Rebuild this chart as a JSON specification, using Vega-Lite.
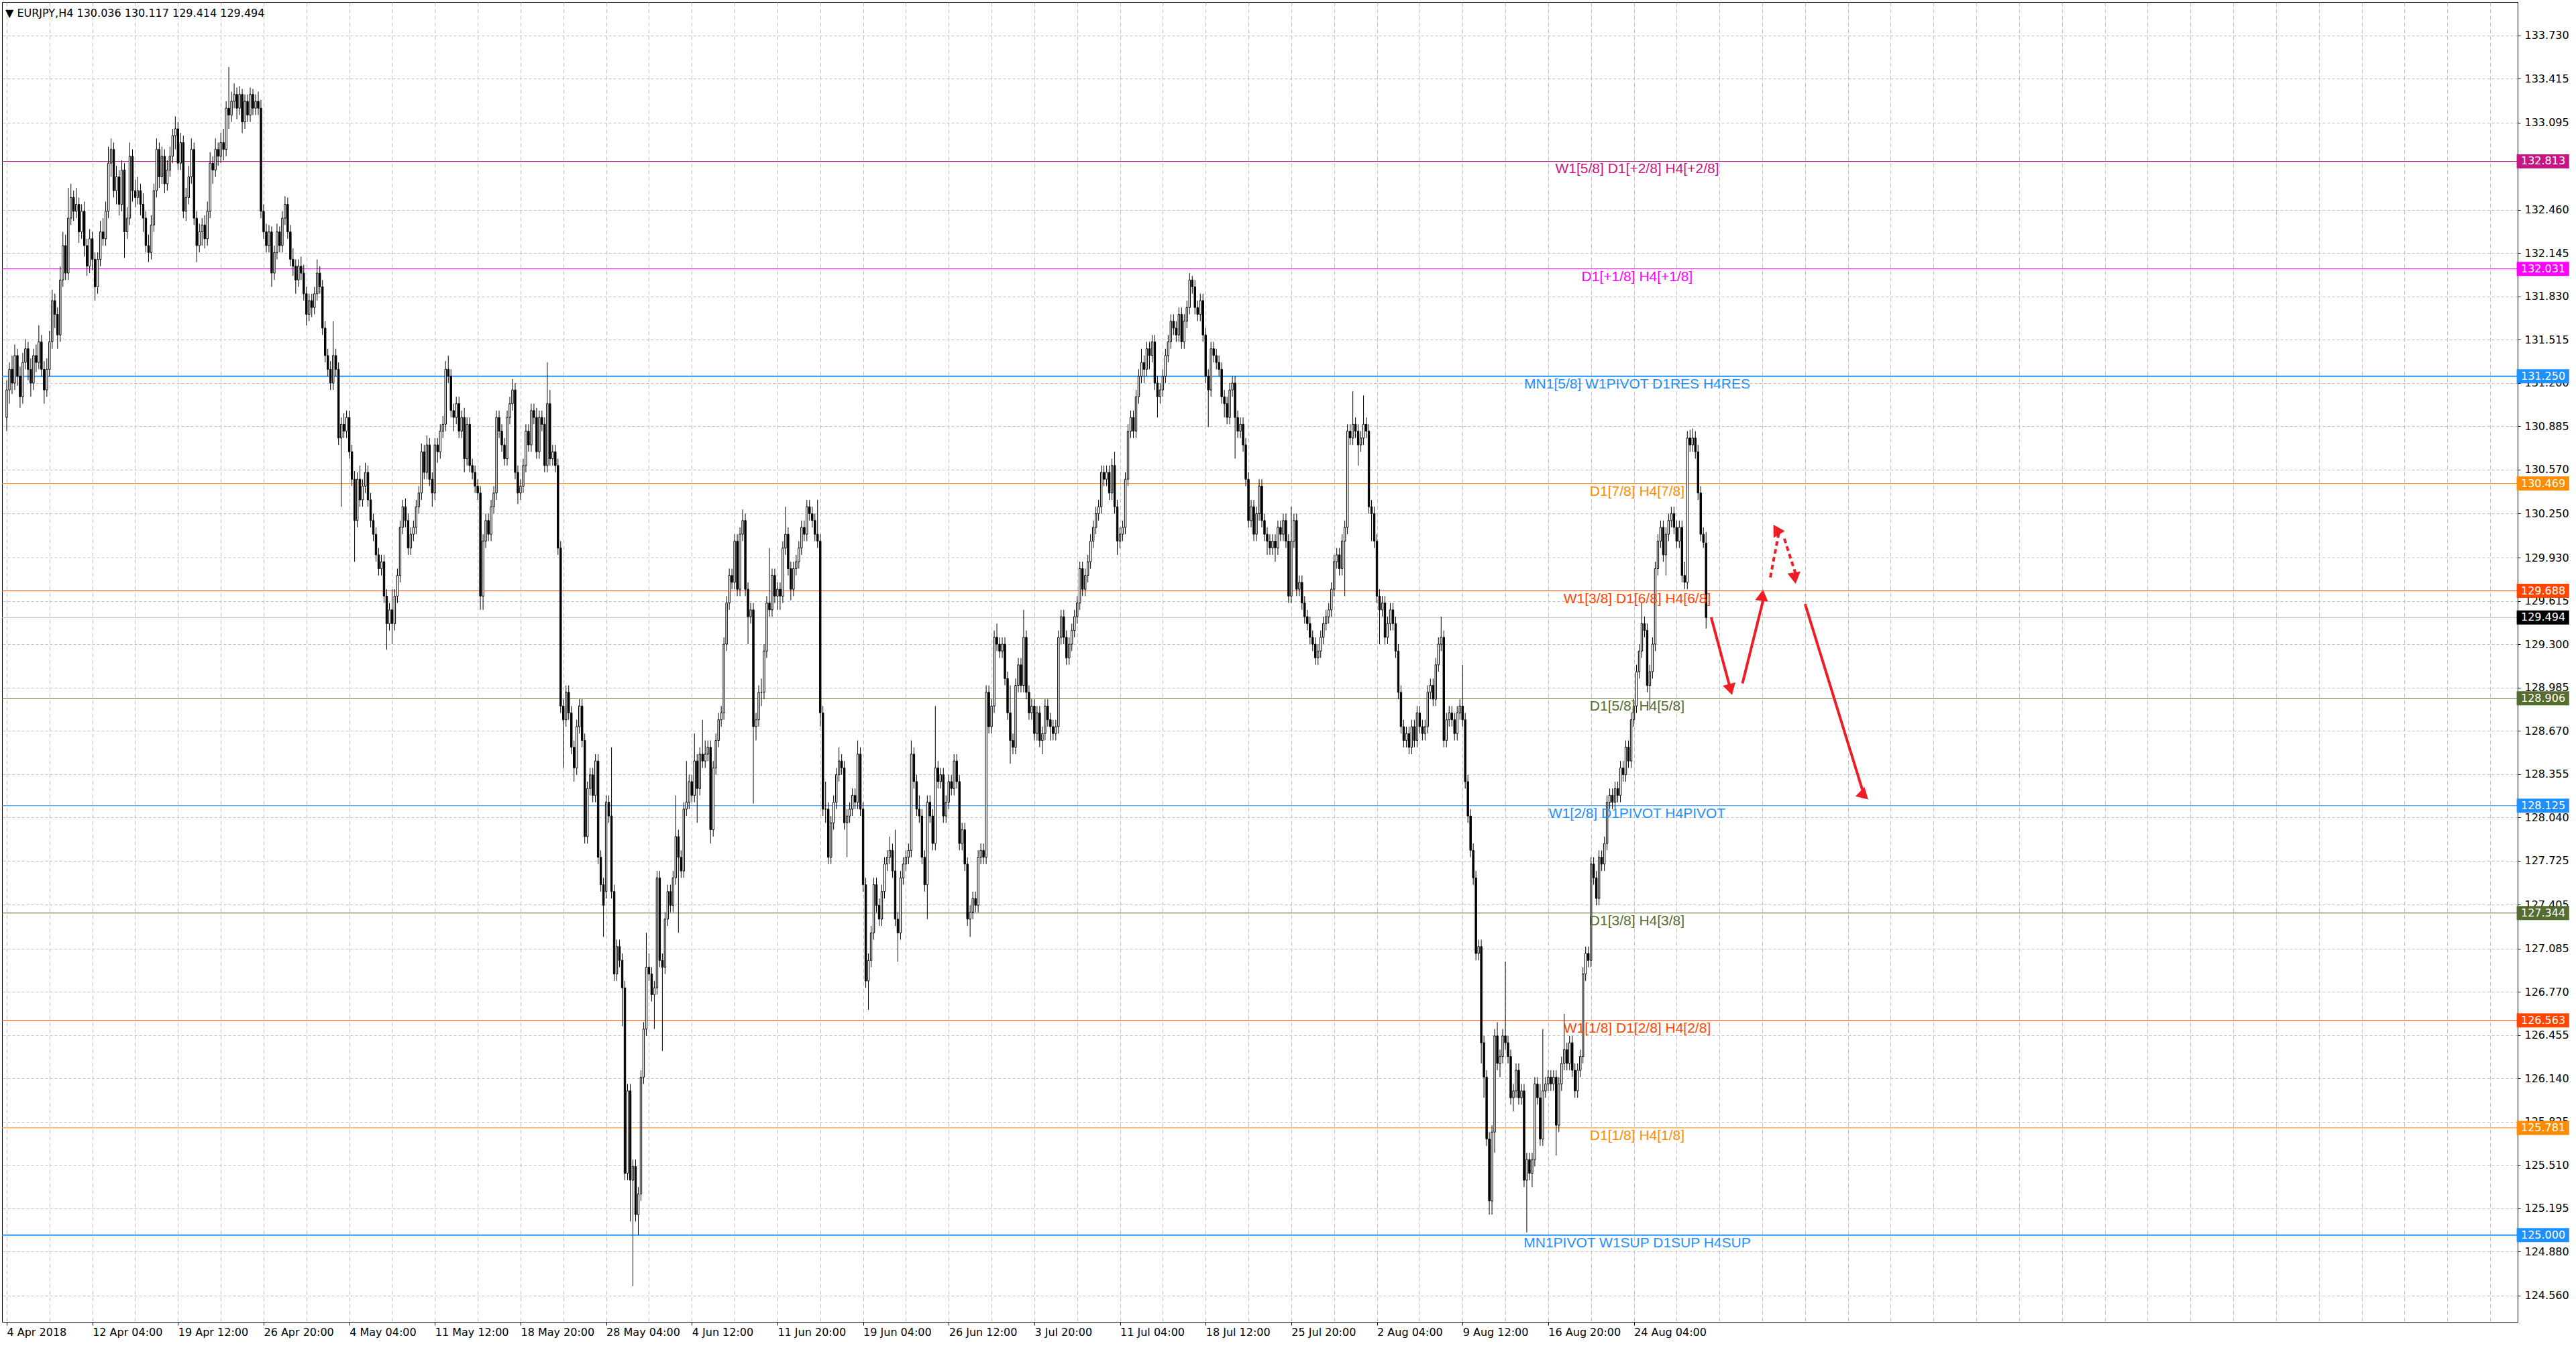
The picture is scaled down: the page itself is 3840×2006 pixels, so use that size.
{
  "$schema": "https://vega.github.io/schema/vega-lite/v6.json",
  "width": 3750,
  "height": 1967,
  "autosize": {"type": "none"},
  "padding": {"left": 3, "top": 3, "right": 87, "bottom": 36},
  "background": "white",
  "config": {"view": {"stroke": "black", "strokeWidth": 1}, "font": "DejaVu Sans"},
  "title": {
    "text": "▼  EURJPY,H4  130.036 130.117 129.414 129.494",
    "anchor": "start", "frame": "group", "orient": "top", "offset": -38, "dx": 5,
    "baseline": "alphabetic", "font": "DejaVu Sans", "fontSize": 16, "fontWeight": "normal", "color": "black"
  },
  "datasets": {
    "levels": [
      {"p": 132.813, "lab": "W1[5/8] D1[+2/8] H4[+2/8]"},
      {"p": 132.031, "lab": "D1[+1/8] H4[+1/8]"},
      {"p": 131.25, "lab": "MN1[5/8] W1PIVOT D1RES H4RES"},
      {"p": 130.469, "lab": "D1[7/8] H4[7/8]"},
      {"p": 129.688, "lab": "W1[3/8] D1[6/8] H4[6/8]"},
      {"p": 128.906, "lab": "D1[5/8] H4[5/8]"},
      {"p": 128.125, "lab": "W1[2/8] D1PIVOT H4PIVOT"},
      {"p": 127.344, "lab": "D1[3/8] H4[3/8]"},
      {"p": 126.563, "lab": "W1[1/8] D1[2/8] H4[2/8]"},
      {"p": 125.781, "lab": "D1[1/8] H4[1/8]"},
      {"p": 125.0, "lab": "MN1PIVOT W1SUP D1SUP H4SUP"},
      {"p": 129.494, "lab": "bid"}
    ],
    "arrows": [
      {"a": "a1", "i": 636.9, "p": 129.496}, {"a": "a1", "i": 644.15, "p": 128.97},
      {"a": "a2", "i": 648.6, "p": 129.015}, {"a": "a2", "i": 656.5, "p": 129.634},
      {"a": "a3", "i": 659.0, "p": 129.786}, {"a": "a3", "i": 662.3, "p": 130.122},
      {"a": "a4", "i": 664.25, "p": 130.068}, {"a": "a4", "i": 668.6, "p": 129.803},
      {"a": "a5", "i": 672.0, "p": 129.592}, {"a": "a5", "i": 693.7, "p": 128.222}
    ],
    "heads": [
      {"a": "a1", "i": 644.15, "p": 128.97},
      {"a": "a2", "i": 656.5, "p": 129.634},
      {"a": "a3", "i": 662.3, "p": 130.122},
      {"a": "a4", "i": 668.6, "p": 129.803},
      {"a": "a5", "i": 693.7, "p": 128.222}
    ],
    "bars": [
{"i":0,"o":130.95,"h":131.22,"l":130.85,"c":131.15},
{"i":1,"o":131.15,"h":131.35,"l":131.05,"c":131.3},
{"i":2,"o":131.3,"h":131.4,"l":131.12,"c":131.2},
{"i":3,"o":131.2,"h":131.48,"l":131.15,"c":131.4},
{"i":4,"o":131.4,"h":131.45,"l":131.18,"c":131.25},
{"i":5,"o":131.25,"h":131.32,"l":131.02,"c":131.1},
{"i":6,"o":131.1,"h":131.42,"l":131.05,"c":131.35},
{"i":7,"o":131.35,"h":131.52,"l":131.3,"c":131.45},
{"i":8,"o":131.45,"h":131.5,"l":131.22,"c":131.3},
{"i":9,"o":131.3,"h":131.38,"l":131.1,"c":131.2},
{"i":10,"o":131.2,"h":131.45,"l":131.15,"c":131.4},
{"i":11,"o":131.4,"h":131.48,"l":131.28,"c":131.35},
{"i":12,"o":131.35,"h":131.62,"l":131.3,"c":131.5},
{"i":13,"o":131.5,"h":131.55,"l":131.25,"c":131.3},
{"i":14,"o":131.3,"h":131.36,"l":131.05,"c":131.15},
{"i":15,"o":131.15,"h":131.38,"l":131.1,"c":131.3},
{"i":16,"o":131.3,"h":131.58,"l":131.25,"c":131.5},
{"i":17,"o":131.5,"h":131.88,"l":131.45,"c":131.8},
{"i":18,"o":131.8,"h":131.85,"l":131.6,"c":131.7},
{"i":19,"o":131.7,"h":131.75,"l":131.45,"c":131.55},
{"i":20,"o":131.55,"h":132.05,"l":131.5,"c":131.95},
{"i":21,"o":131.95,"h":132.3,"l":131.9,"c":132.2},
{"i":22,"o":132.2,"h":132.28,"l":131.95,"c":132.0},
{"i":23,"o":132.0,"h":132.62,"l":131.95,"c":132.4},
{"i":24,"o":132.4,"h":132.65,"l":132.35,"c":132.55},
{"i":25,"o":132.55,"h":132.6,"l":132.38,"c":132.45},
{"i":26,"o":132.45,"h":132.62,"l":132.4,"c":132.5},
{"i":27,"o":132.5,"h":132.55,"l":132.22,"c":132.3},
{"i":28,"o":132.3,"h":132.5,"l":132.25,"c":132.45},
{"i":29,"o":132.45,"h":132.52,"l":132.12,"c":132.2},
{"i":30,"o":132.2,"h":132.25,"l":131.98,"c":132.05},
{"i":31,"o":132.05,"h":132.32,"l":132.0,"c":132.25},
{"i":32,"o":132.25,"h":132.3,"l":132.02,"c":132.1},
{"i":33,"o":132.1,"h":132.15,"l":131.8,"c":131.9},
{"i":34,"o":131.9,"h":132.15,"l":131.85,"c":132.1},
{"i":35,"o":132.1,"h":132.38,"l":132.05,"c":132.3},
{"i":36,"o":132.3,"h":132.4,"l":132.2,"c":132.25},
{"i":37,"o":132.25,"h":132.52,"l":132.2,"c":132.45},
{"i":38,"o":132.45,"h":132.92,"l":132.4,"c":132.8},
{"i":39,"o":132.8,"h":132.98,"l":132.7,"c":132.9},
{"i":40,"o":132.9,"h":132.95,"l":132.55,"c":132.6},
{"i":41,"o":132.6,"h":132.78,"l":132.5,"c":132.7},
{"i":42,"o":132.7,"h":132.75,"l":132.42,"c":132.5},
{"i":43,"o":132.5,"h":132.82,"l":132.45,"c":132.75},
{"i":44,"o":132.75,"h":132.8,"l":132.11,"c":132.3},
{"i":45,"o":132.3,"h":132.48,"l":132.25,"c":132.4},
{"i":46,"o":132.4,"h":132.95,"l":132.35,"c":132.85},
{"i":47,"o":132.85,"h":132.9,"l":132.52,"c":132.6},
{"i":48,"o":132.6,"h":132.68,"l":132.48,"c":132.55},
{"i":49,"o":132.55,"h":132.7,"l":132.5,"c":132.6},
{"i":50,"o":132.6,"h":132.65,"l":132.42,"c":132.5},
{"i":51,"o":132.5,"h":132.58,"l":132.3,"c":132.4},
{"i":52,"o":132.4,"h":132.45,"l":132.15,"c":132.2},
{"i":53,"o":132.2,"h":132.28,"l":132.08,"c":132.15},
{"i":54,"o":132.15,"h":132.42,"l":132.1,"c":132.35},
{"i":55,"o":132.35,"h":132.65,"l":132.3,"c":132.6},
{"i":56,"o":132.6,"h":132.98,"l":132.55,"c":132.9},
{"i":57,"o":132.9,"h":132.95,"l":132.62,"c":132.7},
{"i":58,"o":132.7,"h":132.92,"l":132.65,"c":132.85},
{"i":59,"o":132.85,"h":132.9,"l":132.58,"c":132.65},
{"i":60,"o":132.65,"h":132.82,"l":132.6,"c":132.75},
{"i":61,"o":132.75,"h":132.92,"l":132.7,"c":132.85},
{"i":62,"o":132.85,"h":133.05,"l":132.8,"c":133.0},
{"i":63,"o":133.0,"h":133.14,"l":132.9,"c":133.05},
{"i":64,"o":133.05,"h":133.1,"l":132.75,"c":132.8},
{"i":65,"o":132.8,"h":133.02,"l":132.75,"c":132.95},
{"i":66,"o":132.95,"h":133.0,"l":132.4,"c":132.45},
{"i":67,"o":132.45,"h":132.62,"l":132.38,"c":132.55},
{"i":68,"o":132.55,"h":132.78,"l":132.5,"c":132.7},
{"i":69,"o":132.7,"h":132.98,"l":132.65,"c":132.9},
{"i":70,"o":132.9,"h":132.95,"l":132.35,"c":132.4},
{"i":71,"o":132.4,"h":132.45,"l":132.08,"c":132.2},
{"i":72,"o":132.2,"h":132.36,"l":132.15,"c":132.3},
{"i":73,"o":132.3,"h":132.4,"l":132.2,"c":132.35},
{"i":74,"o":132.35,"h":132.42,"l":132.18,"c":132.25},
{"i":75,"o":132.25,"h":132.52,"l":132.2,"c":132.45},
{"i":76,"o":132.45,"h":132.88,"l":132.4,"c":132.8},
{"i":77,"o":132.8,"h":132.85,"l":132.65,"c":132.75},
{"i":78,"o":132.75,"h":132.98,"l":132.7,"c":132.9},
{"i":79,"o":132.9,"h":132.95,"l":132.78,"c":132.85},
{"i":80,"o":132.85,"h":133.02,"l":132.8,"c":132.95},
{"i":81,"o":132.95,"h":133.05,"l":132.82,"c":132.9},
{"i":82,"o":132.9,"h":133.25,"l":132.85,"c":133.2},
{"i":83,"o":133.2,"h":133.5,"l":133.05,"c":133.15},
{"i":84,"o":133.15,"h":133.32,"l":133.1,"c":133.25},
{"i":85,"o":133.25,"h":133.38,"l":133.2,"c":133.3},
{"i":86,"o":133.3,"h":133.35,"l":133.12,"c":133.2},
{"i":87,"o":133.2,"h":133.36,"l":133.15,"c":133.3},
{"i":88,"o":133.3,"h":133.34,"l":133.02,"c":133.1},
{"i":89,"o":133.1,"h":133.3,"l":133.05,"c":133.25},
{"i":90,"o":133.25,"h":133.3,"l":133.1,"c":133.15},
{"i":91,"o":133.15,"h":133.35,"l":133.1,"c":133.3},
{"i":92,"o":133.3,"h":133.34,"l":133.15,"c":133.2},
{"i":93,"o":133.2,"h":133.3,"l":133.15,"c":133.25},
{"i":94,"o":133.25,"h":133.32,"l":133.15,"c":133.2},
{"i":95,"o":133.2,"h":133.26,"l":132.4,"c":132.45},
{"i":96,"o":132.45,"h":132.5,"l":132.25,"c":132.3},
{"i":97,"o":132.3,"h":132.36,"l":132.15,"c":132.2},
{"i":98,"o":132.2,"h":132.35,"l":132.15,"c":132.3},
{"i":99,"o":132.3,"h":132.34,"l":131.9,"c":132.0},
{"i":100,"o":132.0,"h":132.2,"l":131.95,"c":132.15},
{"i":101,"o":132.15,"h":132.36,"l":132.1,"c":132.3},
{"i":102,"o":132.3,"h":132.34,"l":132.15,"c":132.2},
{"i":103,"o":132.2,"h":132.45,"l":132.15,"c":132.4},
{"i":104,"o":132.4,"h":132.56,"l":132.35,"c":132.5},
{"i":105,"o":132.5,"h":132.55,"l":132.25,"c":132.3},
{"i":106,"o":132.3,"h":132.35,"l":132.05,"c":132.1},
{"i":107,"o":132.1,"h":132.18,"l":131.98,"c":132.05},
{"i":108,"o":132.05,"h":132.1,"l":131.85,"c":131.95},
{"i":109,"o":131.95,"h":132.1,"l":131.9,"c":132.05},
{"i":110,"o":132.05,"h":132.12,"l":131.95,"c":132.0},
{"i":111,"o":132.0,"h":132.06,"l":131.8,"c":131.85},
{"i":112,"o":131.85,"h":131.9,"l":131.62,"c":131.7},
{"i":113,"o":131.7,"h":131.85,"l":131.65,"c":131.8},
{"i":114,"o":131.8,"h":131.85,"l":131.68,"c":131.75},
{"i":115,"o":131.75,"h":131.9,"l":131.7,"c":131.85},
{"i":116,"o":131.85,"h":132.1,"l":131.8,"c":132.0},
{"i":117,"o":132.0,"h":132.05,"l":131.85,"c":131.9},
{"i":118,"o":131.9,"h":131.95,"l":131.55,"c":131.6},
{"i":119,"o":131.6,"h":131.65,"l":131.35,"c":131.4},
{"i":120,"o":131.4,"h":131.45,"l":131.25,"c":131.3},
{"i":121,"o":131.3,"h":131.36,"l":131.15,"c":131.2},
{"i":122,"o":131.2,"h":131.65,"l":131.15,"c":131.4},
{"i":123,"o":131.4,"h":131.45,"l":131.25,"c":131.3},
{"i":124,"o":131.3,"h":131.35,"l":130.75,"c":130.8},
{"i":125,"o":130.8,"h":130.95,"l":130.3,"c":130.9},
{"i":126,"o":130.9,"h":130.98,"l":130.8,"c":130.85},
{"i":127,"o":130.85,"h":131.0,"l":130.8,"c":130.95},
{"i":128,"o":130.95,"h":131.0,"l":130.65,"c":130.7},
{"i":129,"o":130.7,"h":130.75,"l":130.45,"c":130.5},
{"i":130,"o":130.5,"h":130.56,"l":129.9,"c":130.2},
{"i":131,"o":130.2,"h":130.55,"l":130.15,"c":130.5},
{"i":132,"o":130.5,"h":130.6,"l":130.3,"c":130.35},
{"i":133,"o":130.35,"h":130.5,"l":130.3,"c":130.45},
{"i":134,"o":130.45,"h":130.62,"l":130.4,"c":130.55},
{"i":135,"o":130.55,"h":130.6,"l":130.3,"c":130.35},
{"i":136,"o":130.35,"h":130.4,"l":130.15,"c":130.2},
{"i":137,"o":130.2,"h":130.25,"l":130.05,"c":130.1},
{"i":138,"o":130.1,"h":130.15,"l":129.9,"c":129.95},
{"i":139,"o":129.95,"h":130.0,"l":129.8,"c":129.85},
{"i":140,"o":129.85,"h":129.95,"l":129.8,"c":129.9},
{"i":141,"o":129.9,"h":129.95,"l":129.6,"c":129.65},
{"i":142,"o":129.65,"h":129.7,"l":129.26,"c":129.45},
{"i":143,"o":129.45,"h":129.6,"l":129.4,"c":129.55},
{"i":144,"o":129.55,"h":129.7,"l":129.3,"c":129.45},
{"i":145,"o":129.45,"h":129.7,"l":129.4,"c":129.65},
{"i":146,"o":129.65,"h":129.85,"l":129.6,"c":129.8},
{"i":147,"o":129.8,"h":130.2,"l":129.75,"c":130.15},
{"i":148,"o":130.15,"h":130.35,"l":130.1,"c":130.3},
{"i":149,"o":130.3,"h":130.36,"l":130.15,"c":130.2},
{"i":150,"o":130.2,"h":130.25,"l":129.95,"c":130.0},
{"i":151,"o":130.0,"h":130.15,"l":129.95,"c":130.1},
{"i":152,"o":130.1,"h":130.2,"l":130.05,"c":130.15},
{"i":153,"o":130.15,"h":130.35,"l":130.1,"c":130.3},
{"i":154,"o":130.3,"h":130.45,"l":130.25,"c":130.4},
{"i":155,"o":130.4,"h":130.76,"l":130.35,"c":130.7},
{"i":156,"o":130.7,"h":130.75,"l":130.5,"c":130.55},
{"i":157,"o":130.55,"h":130.82,"l":130.5,"c":130.75},
{"i":158,"o":130.75,"h":130.8,"l":130.45,"c":130.5},
{"i":159,"o":130.5,"h":130.55,"l":130.3,"c":130.4},
{"i":160,"o":130.4,"h":130.8,"l":130.35,"c":130.75},
{"i":161,"o":130.75,"h":130.8,"l":130.62,"c":130.7},
{"i":162,"o":130.7,"h":130.9,"l":130.65,"c":130.85},
{"i":163,"o":130.85,"h":130.96,"l":130.8,"c":130.9},
{"i":164,"o":130.9,"h":131.36,"l":130.85,"c":131.3},
{"i":165,"o":131.3,"h":131.4,"l":131.2,"c":131.25},
{"i":166,"o":131.25,"h":131.3,"l":130.95,"c":131.0},
{"i":167,"o":131.0,"h":131.05,"l":130.85,"c":130.95},
{"i":168,"o":130.95,"h":131.1,"l":130.9,"c":131.05},
{"i":169,"o":131.05,"h":131.1,"l":130.8,"c":130.85},
{"i":170,"o":130.85,"h":131.0,"l":130.8,"c":130.95},
{"i":171,"o":130.95,"h":131.02,"l":130.55,"c":130.65},
{"i":172,"o":130.65,"h":130.95,"l":130.6,"c":130.9},
{"i":173,"o":130.9,"h":130.95,"l":130.55,"c":130.6},
{"i":174,"o":130.6,"h":130.65,"l":130.5,"c":130.55},
{"i":175,"o":130.55,"h":130.6,"l":130.4,"c":130.45},
{"i":176,"o":130.45,"h":130.5,"l":130.35,"c":130.4},
{"i":177,"o":130.4,"h":130.45,"l":129.55,"c":129.65},
{"i":178,"o":129.65,"h":130.1,"l":129.55,"c":130.05},
{"i":179,"o":130.05,"h":130.25,"l":130.0,"c":130.2},
{"i":180,"o":130.2,"h":130.25,"l":130.05,"c":130.1},
{"i":181,"o":130.1,"h":130.35,"l":130.05,"c":130.3},
{"i":182,"o":130.3,"h":130.45,"l":130.25,"c":130.4},
{"i":183,"o":130.4,"h":131.0,"l":130.35,"c":130.95},
{"i":184,"o":130.95,"h":131.0,"l":130.8,"c":130.85},
{"i":185,"o":130.85,"h":130.9,"l":130.7,"c":130.75},
{"i":186,"o":130.75,"h":130.8,"l":130.6,"c":130.65},
{"i":187,"o":130.65,"h":131.0,"l":130.6,"c":130.95},
{"i":188,"o":130.95,"h":131.1,"l":130.9,"c":131.05},
{"i":189,"o":131.05,"h":131.23,"l":131.0,"c":131.15},
{"i":190,"o":131.15,"h":131.2,"l":130.5,"c":130.55},
{"i":191,"o":130.55,"h":130.6,"l":130.32,"c":130.4},
{"i":192,"o":130.4,"h":130.5,"l":130.35,"c":130.45},
{"i":193,"o":130.45,"h":130.65,"l":130.4,"c":130.6},
{"i":194,"o":130.6,"h":130.9,"l":130.55,"c":130.85},
{"i":195,"o":130.85,"h":130.9,"l":130.7,"c":130.75},
{"i":196,"o":130.75,"h":131.05,"l":130.7,"c":131.0},
{"i":197,"o":131.0,"h":131.05,"l":130.9,"c":130.95},
{"i":198,"o":130.95,"h":131.02,"l":130.65,"c":130.7},
{"i":199,"o":130.7,"h":131.0,"l":130.65,"c":130.95},
{"i":200,"o":130.95,"h":131.0,"l":130.85,"c":130.9},
{"i":201,"o":130.9,"h":130.95,"l":130.55,"c":130.6},
{"i":202,"o":130.6,"h":131.35,"l":130.55,"c":131.05},
{"i":203,"o":131.05,"h":131.15,"l":130.6,"c":130.65},
{"i":204,"o":130.65,"h":130.75,"l":130.6,"c":130.7},
{"i":205,"o":130.7,"h":130.75,"l":130.55,"c":130.6},
{"i":206,"o":130.6,"h":130.65,"l":129.95,"c":130.0},
{"i":207,"o":130.0,"h":130.05,"l":128.8,"c":128.85},
{"i":208,"o":128.85,"h":128.9,"l":128.4,"c":128.75},
{"i":209,"o":128.75,"h":129.0,"l":128.7,"c":128.95},
{"i":210,"o":128.95,"h":129.0,"l":128.75,"c":128.8},
{"i":211,"o":128.8,"h":128.85,"l":128.5,"c":128.55},
{"i":212,"o":128.55,"h":128.6,"l":128.3,"c":128.4},
{"i":213,"o":128.4,"h":128.75,"l":128.35,"c":128.7},
{"i":214,"o":128.7,"h":128.9,"l":128.65,"c":128.85},
{"i":215,"o":128.85,"h":128.9,"l":128.55,"c":128.6},
{"i":216,"o":128.6,"h":128.65,"l":127.85,"c":127.9},
{"i":217,"o":127.9,"h":128.3,"l":127.85,"c":128.25},
{"i":218,"o":128.25,"h":128.4,"l":128.2,"c":128.35},
{"i":219,"o":128.35,"h":128.4,"l":128.15,"c":128.2},
{"i":220,"o":128.2,"h":128.5,"l":128.15,"c":128.45},
{"i":221,"o":128.45,"h":128.5,"l":127.7,"c":127.75},
{"i":222,"o":127.75,"h":127.8,"l":127.5,"c":127.55},
{"i":223,"o":127.55,"h":127.6,"l":127.17,"c":127.4},
{"i":224,"o":127.5,"h":128.2,"l":127.45,"c":128.15},
{"i":225,"o":128.15,"h":128.2,"l":128.0,"c":128.05},
{"i":226,"o":128.05,"h":128.55,"l":127.45,"c":127.5},
{"i":227,"o":127.5,"h":127.55,"l":126.85,"c":126.9},
{"i":228,"o":126.9,"h":127.15,"l":126.85,"c":127.1},
{"i":229,"o":127.1,"h":127.15,"l":126.95,"c":127.0},
{"i":230,"o":127.0,"h":127.05,"l":126.52,"c":126.8},
{"i":231,"o":126.8,"h":126.85,"l":125.4,"c":125.45},
{"i":232,"o":125.45,"h":126.1,"l":125.4,"c":126.05},
{"i":233,"o":126.05,"h":126.1,"l":125.1,"c":125.4},
{"i":234,"o":125.4,"h":125.55,"l":124.63,"c":125.5},
{"i":235,"o":125.5,"h":125.55,"l":125.1,"c":125.15},
{"i":236,"o":125.15,"h":125.35,"l":125.0,"c":125.3},
{"i":237,"o":125.3,"h":126.2,"l":125.25,"c":126.15},
{"i":238,"o":126.15,"h":126.55,"l":126.1,"c":126.5},
{"i":239,"o":126.5,"h":127.2,"l":126.45,"c":126.95},
{"i":240,"o":126.95,"h":127.05,"l":126.85,"c":126.9},
{"i":241,"o":126.9,"h":126.95,"l":126.7,"c":126.75},
{"i":242,"o":126.75,"h":126.85,"l":126.5,"c":126.8},
{"i":243,"o":126.8,"h":127.65,"l":126.75,"c":127.6},
{"i":244,"o":127.6,"h":127.65,"l":126.95,"c":127.0},
{"i":245,"o":127.0,"h":127.05,"l":126.34,"c":126.95},
{"i":246,"o":126.95,"h":127.35,"l":126.9,"c":127.3},
{"i":247,"o":127.3,"h":127.55,"l":127.25,"c":127.5},
{"i":248,"o":127.5,"h":127.55,"l":127.35,"c":127.4},
{"i":249,"o":127.4,"h":127.65,"l":127.35,"c":127.6},
{"i":250,"o":127.6,"h":128.2,"l":127.55,"c":127.9},
{"i":251,"o":127.9,"h":127.95,"l":127.2,"c":127.75},
{"i":252,"o":127.75,"h":127.8,"l":127.6,"c":127.65},
{"i":253,"o":127.65,"h":128.15,"l":127.6,"c":128.1},
{"i":254,"o":128.1,"h":128.45,"l":128.05,"c":128.15},
{"i":255,"o":128.15,"h":128.35,"l":128.1,"c":128.3},
{"i":256,"o":128.3,"h":128.35,"l":128.15,"c":128.2},
{"i":257,"o":128.2,"h":128.65,"l":128.15,"c":128.45},
{"i":258,"o":128.45,"h":128.5,"l":128.0,"c":128.25},
{"i":259,"o":128.25,"h":128.55,"l":128.2,"c":128.5},
{"i":260,"o":128.5,"h":128.75,"l":128.4,"c":128.45},
{"i":261,"o":128.45,"h":128.6,"l":128.4,"c":128.5},
{"i":262,"o":128.5,"h":128.6,"l":128.45,"c":128.55},
{"i":263,"o":128.55,"h":128.6,"l":127.85,"c":127.95},
{"i":264,"o":127.95,"h":128.45,"l":127.9,"c":128.4},
{"i":265,"o":128.4,"h":128.65,"l":128.35,"c":128.6},
{"i":266,"o":128.6,"h":128.8,"l":128.55,"c":128.75},
{"i":267,"o":128.75,"h":128.85,"l":128.7,"c":128.8},
{"i":268,"o":128.8,"h":129.35,"l":128.75,"c":129.3},
{"i":269,"o":129.3,"h":129.65,"l":129.25,"c":129.6},
{"i":270,"o":129.6,"h":129.85,"l":129.55,"c":129.8},
{"i":271,"o":129.8,"h":129.85,"l":129.7,"c":129.75},
{"i":272,"o":129.75,"h":130.1,"l":129.7,"c":130.05},
{"i":273,"o":130.05,"h":130.1,"l":129.65,"c":129.7},
{"i":274,"o":129.7,"h":130.15,"l":129.65,"c":130.1},
{"i":275,"o":130.1,"h":130.28,"l":130.05,"c":130.2},
{"i":276,"o":130.2,"h":130.25,"l":129.65,"c":129.7},
{"i":277,"o":129.7,"h":129.75,"l":129.3,"c":129.5},
{"i":278,"o":129.5,"h":129.6,"l":129.45,"c":129.55},
{"i":279,"o":129.55,"h":129.6,"l":128.14,"c":128.7},
{"i":280,"o":128.7,"h":128.8,"l":128.6,"c":128.75},
{"i":281,"o":128.75,"h":129.0,"l":128.7,"c":128.95},
{"i":282,"o":128.95,"h":129.05,"l":128.85,"c":128.95},
{"i":283,"o":128.95,"h":129.3,"l":128.9,"c":129.25},
{"i":284,"o":129.25,"h":129.65,"l":129.2,"c":129.6},
{"i":285,"o":129.6,"h":130.0,"l":129.5,"c":129.55},
{"i":286,"o":129.55,"h":129.85,"l":129.5,"c":129.8},
{"i":287,"o":129.8,"h":129.85,"l":129.6,"c":129.65},
{"i":288,"o":129.65,"h":129.75,"l":129.55,"c":129.7},
{"i":289,"o":129.7,"h":129.75,"l":129.55,"c":129.65},
{"i":290,"o":129.65,"h":130.05,"l":129.6,"c":130.0},
{"i":291,"o":130.0,"h":130.3,"l":129.95,"c":130.1},
{"i":292,"o":130.1,"h":130.15,"l":129.8,"c":129.85},
{"i":293,"o":129.85,"h":129.9,"l":129.62,"c":129.7},
{"i":294,"o":129.7,"h":129.9,"l":129.65,"c":129.85},
{"i":295,"o":129.85,"h":129.95,"l":129.8,"c":129.9},
{"i":296,"o":129.9,"h":130.05,"l":129.85,"c":130.0},
{"i":297,"o":130.0,"h":130.2,"l":129.95,"c":130.15},
{"i":298,"o":130.15,"h":130.2,"l":130.05,"c":130.1},
{"i":299,"o":130.1,"h":130.35,"l":130.05,"c":130.3},
{"i":300,"o":130.3,"h":130.35,"l":130.2,"c":130.25},
{"i":301,"o":130.25,"h":130.3,"l":130.15,"c":130.2},
{"i":302,"o":130.2,"h":130.25,"l":130.05,"c":130.1},
{"i":303,"o":130.1,"h":130.35,"l":130.0,"c":130.05},
{"i":304,"o":130.05,"h":130.1,"l":128.7,"c":128.8},
{"i":305,"o":128.8,"h":128.85,"l":128.05,"c":128.1},
{"i":306,"o":128.1,"h":128.3,"l":128.0,"c":128.1},
{"i":307,"o":128.1,"h":128.15,"l":127.7,"c":127.75},
{"i":308,"o":127.75,"h":128.05,"l":127.7,"c":128.0},
{"i":309,"o":128.0,"h":128.2,"l":127.95,"c":128.15},
{"i":310,"o":128.15,"h":128.4,"l":128.1,"c":128.35},
{"i":311,"o":128.35,"h":128.55,"l":128.3,"c":128.45},
{"i":312,"o":128.45,"h":128.5,"l":128.35,"c":128.4},
{"i":313,"o":128.4,"h":128.45,"l":127.95,"c":128.0},
{"i":314,"o":128.0,"h":128.1,"l":127.75,"c":128.05},
{"i":315,"o":128.05,"h":128.15,"l":128.0,"c":128.1},
{"i":316,"o":128.1,"h":128.25,"l":128.05,"c":128.2},
{"i":317,"o":128.2,"h":128.25,"l":128.1,"c":128.15},
{"i":318,"o":128.15,"h":128.6,"l":128.1,"c":128.5},
{"i":319,"o":128.5,"h":128.55,"l":128.05,"c":128.1},
{"i":320,"o":128.1,"h":128.15,"l":127.5,"c":127.55},
{"i":321,"o":127.55,"h":127.6,"l":126.8,"c":126.85},
{"i":322,"o":126.85,"h":127.05,"l":126.64,"c":127.0},
{"i":323,"o":127.0,"h":127.25,"l":126.95,"c":127.2},
{"i":324,"o":127.2,"h":127.6,"l":127.15,"c":127.55},
{"i":325,"o":127.55,"h":127.6,"l":127.35,"c":127.4},
{"i":326,"o":127.4,"h":127.45,"l":127.25,"c":127.3},
{"i":327,"o":127.3,"h":127.55,"l":127.25,"c":127.5},
{"i":328,"o":127.5,"h":127.75,"l":127.45,"c":127.7},
{"i":329,"o":127.7,"h":127.8,"l":127.65,"c":127.75},
{"i":330,"o":127.75,"h":127.9,"l":127.7,"c":127.8},
{"i":331,"o":127.8,"h":127.85,"l":127.6,"c":127.65},
{"i":332,"o":127.65,"h":127.95,"l":127.25,"c":127.3},
{"i":333,"o":127.3,"h":127.35,"l":126.99,"c":127.2},
{"i":334,"o":127.2,"h":127.65,"l":127.15,"c":127.6},
{"i":335,"o":127.6,"h":127.75,"l":127.55,"c":127.7},
{"i":336,"o":127.7,"h":127.8,"l":127.65,"c":127.75},
{"i":337,"o":127.75,"h":127.85,"l":127.7,"c":127.8},
{"i":338,"o":127.8,"h":128.6,"l":127.75,"c":128.5},
{"i":339,"o":128.5,"h":128.55,"l":128.25,"c":128.3},
{"i":340,"o":128.3,"h":128.35,"l":128.05,"c":128.1},
{"i":341,"o":128.1,"h":128.2,"l":128.0,"c":128.05},
{"i":342,"o":128.05,"h":128.1,"l":127.7,"c":127.75},
{"i":343,"o":127.75,"h":127.8,"l":127.5,"c":127.55},
{"i":344,"o":127.55,"h":128.2,"l":127.3,"c":128.15},
{"i":345,"o":128.15,"h":128.2,"l":128.0,"c":128.05},
{"i":346,"o":128.05,"h":128.1,"l":127.8,"c":127.85},
{"i":347,"o":127.85,"h":128.85,"l":127.8,"c":128.4},
{"i":348,"o":128.4,"h":128.45,"l":128.25,"c":128.3},
{"i":349,"o":128.3,"h":128.4,"l":128.25,"c":128.35},
{"i":350,"o":128.35,"h":128.4,"l":128.0,"c":128.05},
{"i":351,"o":128.05,"h":128.2,"l":128.0,"c":128.15},
{"i":352,"o":128.15,"h":128.35,"l":128.1,"c":128.3},
{"i":353,"o":128.3,"h":128.35,"l":128.2,"c":128.25},
{"i":354,"o":128.25,"h":128.5,"l":128.2,"c":128.45},
{"i":355,"o":128.45,"h":128.5,"l":128.25,"c":128.3},
{"i":356,"o":128.3,"h":128.35,"l":127.8,"c":127.85},
{"i":357,"o":127.85,"h":128.0,"l":127.8,"c":127.95},
{"i":358,"o":127.95,"h":128.0,"l":127.65,"c":127.7},
{"i":359,"o":127.7,"h":127.75,"l":127.25,"c":127.3},
{"i":360,"o":127.3,"h":127.4,"l":127.17,"c":127.35},
{"i":361,"o":127.35,"h":127.5,"l":127.3,"c":127.45},
{"i":362,"o":127.45,"h":127.5,"l":127.35,"c":127.4},
{"i":363,"o":127.4,"h":127.8,"l":127.35,"c":127.75},
{"i":364,"o":127.75,"h":127.85,"l":127.7,"c":127.8},
{"i":365,"o":127.8,"h":127.85,"l":127.7,"c":127.75},
{"i":366,"o":127.75,"h":129.0,"l":127.7,"c":128.95},
{"i":367,"o":128.95,"h":129.0,"l":128.65,"c":128.7},
{"i":368,"o":128.7,"h":128.9,"l":128.65,"c":128.85},
{"i":369,"o":128.85,"h":129.4,"l":128.8,"c":129.35},
{"i":370,"o":129.35,"h":129.45,"l":129.25,"c":129.3},
{"i":371,"o":129.3,"h":129.35,"l":129.2,"c":129.25},
{"i":372,"o":129.25,"h":129.35,"l":129.2,"c":129.3},
{"i":373,"o":129.3,"h":129.35,"l":129.0,"c":129.05},
{"i":374,"o":129.05,"h":129.1,"l":128.75,"c":128.8},
{"i":375,"o":128.8,"h":129.0,"l":128.43,"c":128.6},
{"i":376,"o":128.6,"h":128.65,"l":128.5,"c":128.55},
{"i":377,"o":128.55,"h":129.05,"l":128.5,"c":129.0},
{"i":378,"o":129.0,"h":129.2,"l":128.95,"c":129.15},
{"i":379,"o":129.15,"h":129.2,"l":128.95,"c":129.0},
{"i":380,"o":129.0,"h":129.55,"l":128.95,"c":129.35},
{"i":381,"o":129.35,"h":129.4,"l":128.9,"c":128.95},
{"i":382,"o":128.95,"h":129.0,"l":128.75,"c":128.8},
{"i":383,"o":128.8,"h":128.9,"l":128.75,"c":128.85},
{"i":384,"o":128.85,"h":128.9,"l":128.6,"c":128.65},
{"i":385,"o":128.65,"h":128.85,"l":128.6,"c":128.8},
{"i":386,"o":128.8,"h":128.85,"l":128.55,"c":128.6},
{"i":387,"o":128.6,"h":128.7,"l":128.5,"c":128.65},
{"i":388,"o":128.65,"h":128.9,"l":128.6,"c":128.85},
{"i":389,"o":128.85,"h":128.9,"l":128.7,"c":128.75},
{"i":390,"o":128.75,"h":128.8,"l":128.6,"c":128.7},
{"i":391,"o":128.7,"h":128.75,"l":128.6,"c":128.65},
{"i":392,"o":128.65,"h":128.75,"l":128.6,"c":128.7},
{"i":393,"o":128.7,"h":129.4,"l":128.65,"c":129.35},
{"i":394,"o":129.35,"h":129.55,"l":129.3,"c":129.5},
{"i":395,"o":129.5,"h":129.55,"l":129.3,"c":129.35},
{"i":396,"o":129.35,"h":129.4,"l":129.15,"c":129.2},
{"i":397,"o":129.2,"h":129.35,"l":129.15,"c":129.3},
{"i":398,"o":129.3,"h":129.45,"l":129.25,"c":129.4},
{"i":399,"o":129.4,"h":129.55,"l":129.35,"c":129.5},
{"i":400,"o":129.5,"h":129.65,"l":129.45,"c":129.6},
{"i":401,"o":129.6,"h":129.9,"l":129.55,"c":129.85},
{"i":402,"o":129.85,"h":129.9,"l":129.65,"c":129.7},
{"i":403,"o":129.7,"h":129.85,"l":129.65,"c":129.8},
{"i":404,"o":129.8,"h":129.95,"l":129.75,"c":129.9},
{"i":405,"o":129.9,"h":130.1,"l":129.85,"c":130.05},
{"i":406,"o":130.05,"h":130.2,"l":130.0,"c":130.15},
{"i":407,"o":130.15,"h":130.3,"l":130.1,"c":130.25},
{"i":408,"o":130.25,"h":130.35,"l":130.2,"c":130.3},
{"i":409,"o":130.3,"h":130.6,"l":130.25,"c":130.55},
{"i":410,"o":130.55,"h":130.6,"l":130.45,"c":130.5},
{"i":411,"o":130.5,"h":130.6,"l":130.45,"c":130.55},
{"i":412,"o":130.55,"h":130.6,"l":130.35,"c":130.4},
{"i":413,"o":130.4,"h":130.65,"l":130.35,"c":130.6},
{"i":414,"o":130.6,"h":130.7,"l":130.25,"c":130.3},
{"i":415,"o":130.3,"h":130.35,"l":129.95,"c":130.05},
{"i":416,"o":130.05,"h":130.15,"l":130.0,"c":130.1},
{"i":417,"o":130.1,"h":130.2,"l":130.05,"c":130.15},
{"i":418,"o":130.15,"h":130.55,"l":130.1,"c":130.5},
{"i":419,"o":130.5,"h":130.9,"l":130.45,"c":130.85},
{"i":420,"o":130.85,"h":131.0,"l":130.8,"c":130.95},
{"i":421,"o":130.95,"h":131.0,"l":130.8,"c":130.85},
{"i":422,"o":130.85,"h":131.15,"l":130.8,"c":131.1},
{"i":423,"o":131.1,"h":131.3,"l":131.05,"c":131.25},
{"i":424,"o":131.25,"h":131.45,"l":131.2,"c":131.35},
{"i":425,"o":131.35,"h":131.4,"l":131.2,"c":131.3},
{"i":426,"o":131.3,"h":131.5,"l":131.25,"c":131.45},
{"i":427,"o":131.45,"h":131.5,"l":131.3,"c":131.4},
{"i":428,"o":131.4,"h":131.55,"l":131.35,"c":131.5},
{"i":429,"o":131.5,"h":131.55,"l":131.15,"c":131.2},
{"i":430,"o":131.2,"h":131.25,"l":130.95,"c":131.1},
{"i":431,"o":131.1,"h":131.2,"l":131.05,"c":131.15},
{"i":432,"o":131.15,"h":131.3,"l":131.1,"c":131.25},
{"i":433,"o":131.25,"h":131.45,"l":131.2,"c":131.4},
{"i":434,"o":131.4,"h":131.55,"l":131.35,"c":131.5},
{"i":435,"o":131.5,"h":131.7,"l":131.45,"c":131.65},
{"i":436,"o":131.65,"h":131.7,"l":131.55,"c":131.6},
{"i":437,"o":131.6,"h":131.65,"l":131.5,"c":131.55},
{"i":438,"o":131.55,"h":131.75,"l":131.5,"c":131.7},
{"i":439,"o":131.7,"h":131.75,"l":131.45,"c":131.5},
{"i":440,"o":131.5,"h":131.7,"l":131.45,"c":131.65},
{"i":441,"o":131.65,"h":131.8,"l":131.6,"c":131.75},
{"i":442,"o":131.75,"h":132.0,"l":131.7,"c":131.95},
{"i":443,"o":131.95,"h":131.98,"l":131.85,"c":131.9},
{"i":444,"o":131.9,"h":131.95,"l":131.7,"c":131.75},
{"i":445,"o":131.75,"h":131.8,"l":131.65,"c":131.7},
{"i":446,"o":131.7,"h":131.85,"l":131.65,"c":131.8},
{"i":447,"o":131.8,"h":131.85,"l":131.5,"c":131.55},
{"i":448,"o":131.55,"h":131.6,"l":131.2,"c":131.25},
{"i":449,"o":131.25,"h":131.3,"l":130.88,"c":131.15},
{"i":450,"o":131.15,"h":131.5,"l":131.1,"c":131.45},
{"i":451,"o":131.45,"h":131.5,"l":131.35,"c":131.4},
{"i":452,"o":131.4,"h":131.45,"l":131.3,"c":131.35},
{"i":453,"o":131.35,"h":131.4,"l":131.25,"c":131.3},
{"i":454,"o":131.3,"h":131.35,"l":131.05,"c":131.1},
{"i":455,"o":131.1,"h":131.15,"l":130.95,"c":131.05},
{"i":456,"o":131.05,"h":131.1,"l":130.9,"c":130.95},
{"i":457,"o":130.95,"h":131.2,"l":130.9,"c":131.15},
{"i":458,"o":131.15,"h":131.25,"l":131.1,"c":131.2},
{"i":459,"o":131.2,"h":131.25,"l":130.65,"c":130.95},
{"i":460,"o":130.95,"h":131.0,"l":130.8,"c":130.85},
{"i":461,"o":130.85,"h":130.95,"l":130.8,"c":130.9},
{"i":462,"o":130.9,"h":130.95,"l":130.7,"c":130.75},
{"i":463,"o":130.75,"h":130.8,"l":130.45,"c":130.5},
{"i":464,"o":130.5,"h":130.55,"l":130.15,"c":130.2},
{"i":465,"o":130.2,"h":130.35,"l":130.15,"c":130.3},
{"i":466,"o":130.3,"h":130.35,"l":130.05,"c":130.1},
{"i":467,"o":130.1,"h":130.3,"l":130.05,"c":130.25},
{"i":468,"o":130.25,"h":130.5,"l":130.2,"c":130.45},
{"i":469,"o":130.45,"h":130.5,"l":130.15,"c":130.2},
{"i":470,"o":130.2,"h":130.25,"l":130.05,"c":130.1},
{"i":471,"o":130.1,"h":130.15,"l":129.95,"c":130.05},
{"i":472,"o":130.05,"h":130.1,"l":129.95,"c":130.0},
{"i":473,"o":130.0,"h":130.1,"l":129.95,"c":130.05},
{"i":474,"o":130.05,"h":130.1,"l":129.9,"c":130.0},
{"i":475,"o":130.0,"h":130.2,"l":129.95,"c":130.15},
{"i":476,"o":130.15,"h":130.2,"l":130.05,"c":130.1},
{"i":477,"o":130.1,"h":130.25,"l":130.05,"c":130.2},
{"i":478,"o":130.2,"h":130.25,"l":130.0,"c":130.05},
{"i":479,"o":130.05,"h":130.1,"l":129.6,"c":129.65},
{"i":480,"o":129.65,"h":130.3,"l":129.6,"c":130.05},
{"i":481,"o":130.05,"h":130.25,"l":130.0,"c":130.2},
{"i":482,"o":130.2,"h":130.25,"l":129.65,"c":129.7},
{"i":483,"o":129.7,"h":129.8,"l":129.65,"c":129.75},
{"i":484,"o":129.75,"h":129.8,"l":129.55,"c":129.6},
{"i":485,"o":129.6,"h":129.65,"l":129.45,"c":129.5},
{"i":486,"o":129.5,"h":129.55,"l":129.4,"c":129.45},
{"i":487,"o":129.45,"h":129.5,"l":129.3,"c":129.35},
{"i":488,"o":129.35,"h":129.4,"l":129.25,"c":129.3},
{"i":489,"o":129.3,"h":129.35,"l":129.15,"c":129.2},
{"i":490,"o":129.2,"h":129.3,"l":129.15,"c":129.25},
{"i":491,"o":129.25,"h":129.4,"l":129.2,"c":129.35},
{"i":492,"o":129.35,"h":129.5,"l":129.3,"c":129.45},
{"i":493,"o":129.45,"h":129.55,"l":129.4,"c":129.5},
{"i":494,"o":129.5,"h":129.6,"l":129.45,"c":129.55},
{"i":495,"o":129.55,"h":129.75,"l":129.5,"c":129.7},
{"i":496,"o":129.7,"h":129.95,"l":129.65,"c":129.9},
{"i":497,"o":129.9,"h":130.0,"l":129.85,"c":129.95},
{"i":498,"o":129.95,"h":130.0,"l":129.8,"c":129.85},
{"i":499,"o":129.85,"h":130.1,"l":129.8,"c":130.05},
{"i":500,"o":130.05,"h":130.2,"l":129.65,"c":130.15},
{"i":501,"o":130.15,"h":130.9,"l":130.1,"c":130.85},
{"i":502,"o":130.85,"h":130.9,"l":130.75,"c":130.8},
{"i":503,"o":130.8,"h":131.14,"l":130.75,"c":130.9},
{"i":504,"o":130.9,"h":130.95,"l":130.8,"c":130.85},
{"i":505,"o":130.85,"h":130.9,"l":130.6,"c":130.75},
{"i":506,"o":130.75,"h":130.85,"l":130.7,"c":130.8},
{"i":507,"o":130.8,"h":131.11,"l":130.75,"c":130.9},
{"i":508,"o":130.9,"h":130.95,"l":130.8,"c":130.85},
{"i":509,"o":130.85,"h":130.9,"l":130.25,"c":130.3},
{"i":510,"o":130.3,"h":130.35,"l":130.05,"c":130.25},
{"i":511,"o":130.25,"h":130.3,"l":130.0,"c":130.05},
{"i":512,"o":130.05,"h":130.1,"l":129.6,"c":129.65},
{"i":513,"o":129.65,"h":129.7,"l":129.3,"c":129.55},
{"i":514,"o":129.55,"h":129.65,"l":129.5,"c":129.6},
{"i":515,"o":129.6,"h":129.65,"l":129.3,"c":129.35},
{"i":516,"o":129.35,"h":129.5,"l":129.3,"c":129.45},
{"i":517,"o":129.45,"h":129.6,"l":129.4,"c":129.55},
{"i":518,"o":129.55,"h":129.6,"l":129.4,"c":129.45},
{"i":519,"o":129.45,"h":129.5,"l":129.2,"c":129.25},
{"i":520,"o":129.25,"h":129.3,"l":128.9,"c":128.95},
{"i":521,"o":128.95,"h":129.0,"l":128.65,"c":128.7},
{"i":522,"o":128.7,"h":128.75,"l":128.55,"c":128.6},
{"i":523,"o":128.6,"h":128.7,"l":128.55,"c":128.65},
{"i":524,"o":128.65,"h":128.7,"l":128.5,"c":128.55},
{"i":525,"o":128.55,"h":128.75,"l":128.5,"c":128.7},
{"i":526,"o":128.7,"h":128.75,"l":128.55,"c":128.6},
{"i":527,"o":128.6,"h":128.85,"l":128.55,"c":128.8},
{"i":528,"o":128.8,"h":128.85,"l":128.65,"c":128.7},
{"i":529,"o":128.7,"h":128.75,"l":128.6,"c":128.65},
{"i":530,"o":128.65,"h":128.75,"l":128.6,"c":128.7},
{"i":531,"o":128.7,"h":129.0,"l":128.65,"c":128.95},
{"i":532,"o":128.95,"h":129.05,"l":128.9,"c":129.0},
{"i":533,"o":129.0,"h":129.05,"l":128.85,"c":128.9},
{"i":534,"o":128.9,"h":129.2,"l":128.85,"c":129.15},
{"i":535,"o":129.15,"h":129.35,"l":129.1,"c":129.3},
{"i":536,"o":129.3,"h":129.5,"l":129.25,"c":129.35},
{"i":537,"o":129.35,"h":129.4,"l":128.55,"c":128.6},
{"i":538,"o":128.6,"h":128.8,"l":128.55,"c":128.75},
{"i":539,"o":128.75,"h":128.85,"l":128.7,"c":128.8},
{"i":540,"o":128.8,"h":128.85,"l":128.7,"c":128.75},
{"i":541,"o":128.75,"h":128.8,"l":128.6,"c":128.65},
{"i":542,"o":128.65,"h":128.85,"l":128.6,"c":128.8},
{"i":543,"o":128.8,"h":128.9,"l":128.75,"c":128.85},
{"i":544,"o":128.85,"h":129.15,"l":128.7,"c":128.75},
{"i":545,"o":128.75,"h":128.8,"l":128.25,"c":128.3},
{"i":546,"o":128.3,"h":128.35,"l":128.0,"c":128.05},
{"i":547,"o":128.05,"h":128.1,"l":127.75,"c":127.8},
{"i":548,"o":127.8,"h":127.85,"l":127.55,"c":127.6},
{"i":549,"o":127.6,"h":127.65,"l":127.0,"c":127.05},
{"i":550,"o":127.05,"h":127.15,"l":127.0,"c":127.1},
{"i":551,"o":127.1,"h":127.15,"l":126.25,"c":126.4},
{"i":552,"o":126.4,"h":126.45,"l":126.0,"c":126.15},
{"i":553,"o":126.15,"h":126.2,"l":125.65,"c":125.7},
{"i":554,"o":125.7,"h":125.75,"l":125.15,"c":125.25},
{"i":555,"o":125.25,"h":125.8,"l":125.15,"c":125.75},
{"i":556,"o":125.75,"h":126.5,"l":125.6,"c":126.45},
{"i":557,"o":126.45,"h":126.55,"l":126.2,"c":126.25},
{"i":558,"o":126.25,"h":126.35,"l":126.15,"c":126.3},
{"i":559,"o":126.3,"h":126.5,"l":126.25,"c":126.45},
{"i":560,"o":126.45,"h":126.99,"l":126.35,"c":126.4},
{"i":561,"o":126.4,"h":126.45,"l":126.25,"c":126.3},
{"i":562,"o":126.3,"h":126.35,"l":125.95,"c":126.0},
{"i":563,"o":126.0,"h":126.1,"l":125.9,"c":126.05},
{"i":564,"o":126.05,"h":126.25,"l":126.0,"c":126.2},
{"i":565,"o":126.2,"h":126.25,"l":125.95,"c":126.0},
{"i":566,"o":126.0,"h":126.1,"l":125.95,"c":126.05},
{"i":567,"o":126.05,"h":126.1,"l":125.35,"c":125.4},
{"i":568,"o":125.4,"h":125.6,"l":125.02,"c":125.55},
{"i":569,"o":125.55,"h":125.6,"l":125.4,"c":125.45},
{"i":570,"o":125.45,"h":125.6,"l":125.35,"c":125.55},
{"i":571,"o":125.55,"h":126.15,"l":125.5,"c":126.1},
{"i":572,"o":126.1,"h":126.15,"l":125.95,"c":126.0},
{"i":573,"o":126.0,"h":126.1,"l":125.65,"c":125.7},
{"i":574,"o":125.7,"h":126.5,"l":125.65,"c":126.05},
{"i":575,"o":126.05,"h":126.15,"l":126.0,"c":126.1},
{"i":576,"o":126.1,"h":126.2,"l":126.05,"c":126.15},
{"i":577,"o":126.15,"h":126.2,"l":126.05,"c":126.1},
{"i":578,"o":126.1,"h":126.2,"l":126.05,"c":126.15},
{"i":579,"o":126.15,"h":126.2,"l":125.58,"c":125.8},
{"i":580,"o":125.8,"h":126.15,"l":125.75,"c":126.1},
{"i":581,"o":126.1,"h":126.3,"l":126.05,"c":126.25},
{"i":582,"o":126.25,"h":126.61,"l":126.2,"c":126.35},
{"i":583,"o":126.35,"h":126.4,"l":126.2,"c":126.25},
{"i":584,"o":126.25,"h":126.45,"l":126.2,"c":126.4},
{"i":585,"o":126.4,"h":126.45,"l":126.15,"c":126.2},
{"i":586,"o":126.2,"h":126.25,"l":126.0,"c":126.05},
{"i":587,"o":126.05,"h":126.25,"l":126.0,"c":126.2},
{"i":588,"o":126.2,"h":126.35,"l":126.15,"c":126.3},
{"i":589,"o":126.3,"h":126.95,"l":126.25,"c":126.9},
{"i":590,"o":126.9,"h":127.1,"l":126.85,"c":127.05},
{"i":591,"o":127.05,"h":127.1,"l":126.95,"c":127.0},
{"i":592,"o":127.0,"h":127.75,"l":126.95,"c":127.7},
{"i":593,"o":127.7,"h":127.75,"l":127.55,"c":127.6},
{"i":594,"o":127.6,"h":127.65,"l":127.4,"c":127.45},
{"i":595,"o":127.45,"h":127.8,"l":127.4,"c":127.75},
{"i":596,"o":127.75,"h":127.8,"l":127.65,"c":127.7},
{"i":597,"o":127.7,"h":127.9,"l":127.65,"c":127.85},
{"i":598,"o":127.85,"h":128.2,"l":127.8,"c":128.15},
{"i":599,"o":128.15,"h":128.25,"l":128.1,"c":128.2},
{"i":600,"o":128.2,"h":128.25,"l":128.1,"c":128.15},
{"i":601,"o":128.15,"h":128.3,"l":128.1,"c":128.25},
{"i":602,"o":128.25,"h":128.3,"l":128.15,"c":128.2},
{"i":603,"o":128.2,"h":128.45,"l":128.15,"c":128.4},
{"i":604,"o":128.4,"h":128.45,"l":128.3,"c":128.35},
{"i":605,"o":128.35,"h":128.6,"l":128.3,"c":128.55},
{"i":606,"o":128.55,"h":128.6,"l":128.4,"c":128.45},
{"i":607,"o":128.45,"h":128.8,"l":128.4,"c":128.75},
{"i":608,"o":128.75,"h":128.9,"l":128.7,"c":128.85},
{"i":609,"o":128.85,"h":129.15,"l":128.8,"c":129.1},
{"i":610,"o":129.1,"h":129.3,"l":129.05,"c":129.25},
{"i":611,"o":129.25,"h":129.6,"l":129.2,"c":129.45},
{"i":612,"o":129.45,"h":129.5,"l":129.35,"c":129.4},
{"i":613,"o":129.4,"h":129.45,"l":128.95,"c":129.0},
{"i":614,"o":129.0,"h":129.15,"l":128.82,"c":129.1},
{"i":615,"o":129.1,"h":129.35,"l":129.05,"c":129.3},
{"i":616,"o":129.3,"h":129.9,"l":129.25,"c":129.85},
{"i":617,"o":129.85,"h":130.1,"l":129.8,"c":130.05},
{"i":618,"o":130.05,"h":130.2,"l":130.0,"c":130.15},
{"i":619,"o":130.15,"h":130.2,"l":129.9,"c":129.95},
{"i":620,"o":129.95,"h":130.15,"l":129.8,"c":130.1},
{"i":621,"o":130.1,"h":130.25,"l":130.05,"c":130.2},
{"i":622,"o":130.2,"h":130.3,"l":130.15,"c":130.25},
{"i":623,"o":130.25,"h":130.3,"l":130.1,"c":130.15},
{"i":624,"o":130.15,"h":130.2,"l":130.0,"c":130.05},
{"i":625,"o":130.05,"h":130.2,"l":130.0,"c":130.15},
{"i":626,"o":130.15,"h":130.2,"l":129.75,"c":129.8},
{"i":627,"o":129.8,"h":129.9,"l":129.7,"c":129.75},
{"i":628,"o":129.75,"h":130.85,"l":129.7,"c":130.8},
{"i":629,"o":130.8,"h":130.86,"l":130.7,"c":130.75},
{"i":630,"o":130.75,"h":130.87,"l":130.7,"c":130.8},
{"i":631,"o":130.8,"h":130.85,"l":130.65,"c":130.7},
{"i":632,"o":130.7,"h":130.75,"l":130.35,"c":130.4},
{"i":633,"o":130.4,"h":130.45,"l":130.05,"c":130.1},
{"i":634,"o":130.1,"h":130.15,"l":130.0,"c":130.04},
{"i":635,"o":130.036,"h":130.117,"l":129.414,"c":129.494}
    ]
  },
  "layer": [
    {
      "data": {"name": "levels"},
      "transform": [{"filter": "datum.lab != 'bid'"}],
      "mark": {"type": "rule"},
      "encoding": {
        "y": {"field": "p", "type": "quantitative", "title": null, "scale": {"domain": [124.394, 133.948], "nice": false, "zero": false}},
        "color": {"field": "lab", "type": "nominal", "legend": null,
          "scale": {"domain": ["W1[5/8] D1[+2/8] H4[+2/8]", "D1[+1/8] H4[+1/8]", "MN1[5/8] W1PIVOT D1RES H4RES", "D1[7/8] H4[7/8]", "W1[3/8] D1[6/8] H4[6/8]", "D1[5/8] H4[5/8]", "W1[2/8] D1PIVOT H4PIVOT", "D1[3/8] H4[3/8]", "W1[1/8] D1[2/8] H4[2/8]", "D1[1/8] H4[1/8]", "MN1PIVOT W1SUP D1SUP H4SUP", "bid"],
            "range": ["#C71585", "#FF00FF", "#1E90FF", "#FF8C00", "#FF4500", "#556B2F", "#1E90FF", "#556B2F", "#FF4500", "#FF8C00", "#1E90FF", "#000000"]}},
        "strokeWidth": {"condition": {"test": "datum.p == 131.25 || datum.p == 125", "value": 2}, "value": 1}
      }
    },
    {
      "data": {"name": "levels"},
      "transform": [{"filter": "datum.lab == 'bid'"}],
      "mark": {"type": "rule", "color": "#C0C0C0", "strokeWidth": 1},
      "encoding": {
        "y": {"field": "p", "type": "quantitative", "title": null, "scale": {"domain": [124.394, 133.948], "nice": false, "zero": false}}
      }
    },
    {
      "data": {"name": "bars"},
      "mark": {"type": "rule", "color": "black", "strokeWidth": 1},
      "encoding": {
        "x": {"field": "i", "type": "quantitative", "title": null,
          "scale": {"domain": [-0.5, 937], "nice": false, "zero": false},
          "axis": {
            "orient": "bottom", "title": null,
            "values": [0,16,32,48,64,80,96,112,128,144,160,176,192,208,224,240,256,272,288,304,320,336,352,368,384,400,416,432,448,464,480,496,512,528,544,560,576,592,608,624,640,656,672,688,704,720,736,752,768,784,800,816,832,848,864,880,896,912,928],
            "grid": true, "gridColor": "#C0C0C0", "gridDash": [6, 4], "gridWidth": 1,
            "domainColor": "black", "tickColor": "black", "tickSize": 5,
            "tickOpacity": {"condition": {"test": "datum.value % 32 == 0 && datum.value <= 608", "value": 1}, "value": 0},
            "labelExpr": "datum.value % 32 == 0 && datum.value <= 608 ? ['4 Apr 2018','12 Apr 04:00','19 Apr 12:00','26 Apr 20:00','4 May 04:00','11 May 12:00','18 May 20:00','28 May 04:00','4 Jun 12:00','11 Jun 20:00','19 Jun 04:00','26 Jun 12:00','3 Jul 20:00','11 Jul 04:00','18 Jul 12:00','25 Jul 20:00','2 Aug 04:00','9 Aug 12:00','16 Aug 20:00','24 Aug 04:00'][datum.value / 32] : ''",
            "labelAlign": "left", "labelBaseline": "top", "labelPadding": 2,
            "labelFont": "DejaVu Sans", "labelFontSize": 16, "labelColor": "black",
            "labelOverlap": false, "labelFlush": false, "labelBound": false
          }},
        "y": {"field": "l", "type": "quantitative", "title": null,
          "scale": {"domain": [124.394, 133.948], "nice": false, "zero": false},
          "axis": {
            "orient": "right", "title": null,
            "values": [133.73,133.415,133.095,132.46,132.145,131.83,131.515,131.2,130.885,130.57,130.25,129.93,129.615,129.3,128.985,128.67,128.355,128.04,127.725,127.405,127.085,126.77,126.455,126.14,125.825,125.51,125.195,124.88,124.56],
            "format": ".3f",
            "grid": true, "gridColor": "#C0C0C0", "gridDash": [4, 3], "gridWidth": 1,
            "domainColor": "black", "tickColor": "black", "tickSize": 4,
            "labelPadding": 6, "labelBaseline": "middle",
            "labelFont": "DejaVu Sans", "labelFontSize": 16, "labelColor": "black",
            "labelOverlap": false, "labelFlush": false, "labelBound": false
          }},
        "y2": {"field": "h"}
      }
    },
    {
      "data": {"name": "bars"},
      "mark": {"type": "bar", "orient": "vertical", "width": 2.4, "stroke": "black", "strokeWidth": 1},
      "encoding": {
        "x": {"field": "i", "type": "quantitative", "title": null, "scale": {"domain": [-0.5, 937], "nice": false, "zero": false}},
        "y": {"field": "o", "type": "quantitative", "title": null, "scale": {"domain": [124.394, 133.948], "nice": false, "zero": false}},
        "y2": {"field": "c"},
        "fill": {"condition": {"test": "datum.c < datum.o", "value": "black"}, "value": "white"}
      }
    },
    {
      "data": {"name": "levels"},
      "transform": [{"filter": "datum.lab != 'bid'"}],
      "mark": {"type": "text", "align": "center", "baseline": "middle", "dy": 12, "font": "Liberation Sans", "fontSize": 21},
      "encoding": {
        "x": {"datum": 609.25, "type": "quantitative", "title": null, "scale": {"domain": [-0.5, 937], "nice": false, "zero": false}},
        "y": {"field": "p", "type": "quantitative", "title": null, "scale": {"domain": [124.394, 133.948], "nice": false, "zero": false}},
        "text": {"field": "lab"},
        "color": {"field": "lab", "type": "nominal", "legend": null}
      }
    },
    {
      "data": {"name": "arrows"},
      "mark": {"type": "line", "color": "#EE1C25", "strokeWidth": 4, "strokeCap": "butt"},
      "encoding": {
        "x": {"field": "i", "type": "quantitative", "title": null, "scale": {"domain": [-0.5, 937], "nice": false, "zero": false}},
        "y": {"field": "p", "type": "quantitative", "title": null, "scale": {"domain": [124.394, 133.948], "nice": false, "zero": false}},
        "strokeDash": {"field": "a", "type": "nominal", "legend": null,
          "scale": {"domain": ["a1", "a2", "a3", "a4", "a5"], "range": [[1, 0], [1, 0], [7, 5], [7, 5], [1, 0]]}}
      }
    },
    {
      "data": {"name": "heads"},
      "mark": {"type": "point", "shape": "triangle-up", "filled": true, "opacity": 1, "color": "#EE1C25", "size": 380},
      "encoding": {
        "x": {"field": "i", "type": "quantitative", "title": null, "scale": {"domain": [-0.5, 937], "nice": false, "zero": false}},
        "y": {"field": "p", "type": "quantitative", "title": null, "scale": {"domain": [124.394, 133.948], "nice": false, "zero": false}},
        "angle": {"field": "a", "type": "nominal", "legend": null,
          "scale": {"domain": ["a1", "a2", "a3", "a4", "a5"], "range": [165, 13.8, 10.9, 162.4, 162.8]}}
      }
    },
    {
      "data": {"name": "levels"},
      "mark": {"type": "bar", "orient": "horizontal", "height": 21, "clip": false},
      "encoding": {
        "x": {"datum": 937.9, "type": "quantitative", "title": null, "scale": {"domain": [-0.5, 937], "nice": false, "zero": false}},
        "x2": {"datum": 957.5},
        "y": {"field": "p", "type": "quantitative", "title": null, "scale": {"domain": [124.394, 133.948], "nice": false, "zero": false}},
        "color": {"field": "lab", "type": "nominal", "legend": null}
      }
    },
    {
      "data": {"name": "levels"},
      "mark": {"type": "text", "align": "left", "baseline": "middle", "font": "DejaVu Sans", "fontSize": 16, "color": "white", "clip": false},
      "encoding": {
        "x": {"datum": 939.5, "type": "quantitative", "title": null, "scale": {"domain": [-0.5, 937], "nice": false, "zero": false}},
        "y": {"field": "p", "type": "quantitative", "title": null, "scale": {"domain": [124.394, 133.948], "nice": false, "zero": false}},
        "text": {"field": "p", "type": "quantitative", "format": ".3f"}
      }
    }
  ]
}
